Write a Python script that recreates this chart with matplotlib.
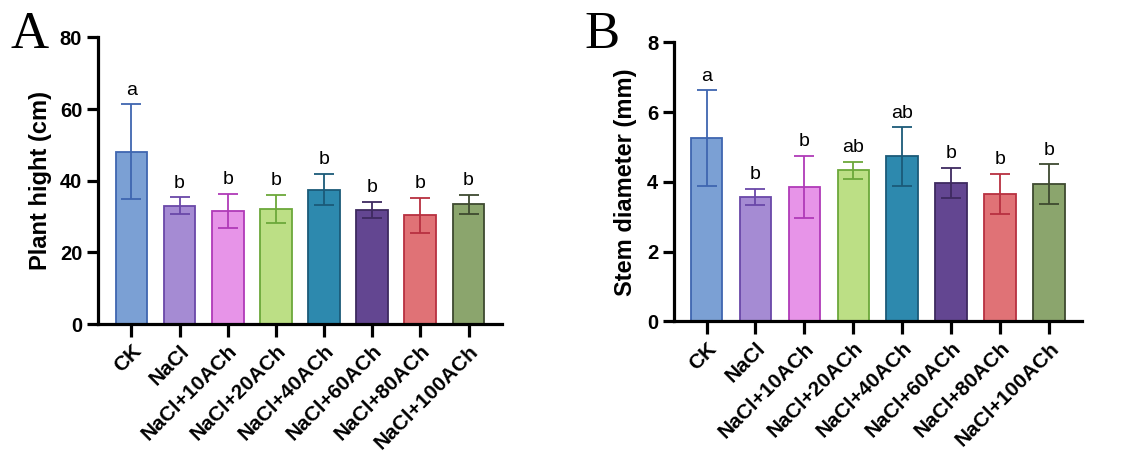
import numpy as np
import matplotlib.pyplot as plt

plt.rcParams["font.family"] = ["Liberation Sans", "DejaVu Sans"]

groups = ["CK", "NaCl", "NaCl+10ACh", "NaCl+20ACh", "NaCl+40ACh",
          "NaCl+60ACh", "NaCl+80ACh", "NaCl+100ACh"]

height_mean = [48.1, 33.0, 31.5, 32.2, 37.5, 31.9, 30.4, 33.4]
height_sd = [13.2, 2.4, 4.8, 3.9, 4.4, 2.3, 4.9, 2.7]
height_sig = ["a", "b", "b", "b", "b", "b", "b", "b"]

stem_mean = [5.25, 3.57, 3.86, 4.33, 4.73, 3.97, 3.66, 3.94]
stem_sd = [1.38, 0.23, 0.89, 0.25, 0.84, 0.44, 0.57, 0.56]
stem_sig = ["a", "b", "b", "ab", "ab", "b", "b", "b"]

fills = ["#7BA0D4", "#A58BD3", "#E794E8", "#BCDF85",
         "#2D89AE", "#634691", "#E07276", "#8BA56D"]
edges = ["#3F66B0", "#6A48A8", "#B03AB8", "#6CA83A",
         "#1B5A78", "#3E2A60", "#B83040", "#3E4A30"]

fig = plt.figure(figsize=(11.35, 4.67), dpi=100)
ax_a = fig.add_axes([0.0865, 0.306, 0.356, 0.614])
ax_b = fig.add_axes([0.594, 0.312, 0.359, 0.597])


def draw_panel(ax, means, sds, sig, ylim, yticks, ylabel, xlim, width, lx):
    x = np.arange(len(groups))
    ax.bar(x, means, width=width, color=fills, edgecolor=edges,
           linewidth=1.3, zorder=2)
    for i in range(len(groups)):
        ax.errorbar(x[i], means[i], yerr=sds[i], color=edges[i],
                    elinewidth=1.3, capsize=7, capthick=1.3, zorder=3)
        ax.annotate(sig[i], (x[i], means[i] + sds[i]), xytext=(0, 4),
                    textcoords="offset points", ha="center", va="bottom",
                    fontsize=14)
    ax.set_xlim(*xlim)
    ax.set_ylim(*ylim)
    ax.set_yticks(yticks)
    ax.set_xticks(x)
    ax.set_xticklabels(groups, rotation=45, ha="right",
                       rotation_mode="anchor", fontsize=15,
                       fontweight="bold")
    for lab in ax.get_yticklabels():
        lab.set_fontsize(14.5)
        lab.set_fontweight("bold")
    ax.set_ylabel(ylabel, fontsize=17, fontweight="bold")
    ax.yaxis.set_label_coords(lx, 0.5)
    ax.spines["top"].set_visible(False)
    ax.spines["right"].set_visible(False)
    ax.spines["left"].set_linewidth(2.3)
    ax.spines["bottom"].set_linewidth(2.3)
    ax.tick_params(axis="y", width=2.3, length=8)
    ax.tick_params(axis="x", width=2.3, length=9)


draw_panel(ax_a, height_mean, height_sd, height_sig, (0, 80),
           [0, 20, 40, 60, 80], "Plant hight (cm)", (-0.69, 7.7), 0.66,
           -0.114)
draw_panel(ax_b, stem_mean, stem_sd, stem_sig, (0, 8),
           [0, 2, 4, 6, 8], "Stem diameter (mm)", (-0.66, 7.66), 0.65,
           -0.091)

fig.text(0.009, 0.897, "A", fontsize=38, family="Liberation Serif")
fig.text(0.515, 0.897, "B", fontsize=38, family="Liberation Serif")

fig.savefig("out.png", dpi=100)
